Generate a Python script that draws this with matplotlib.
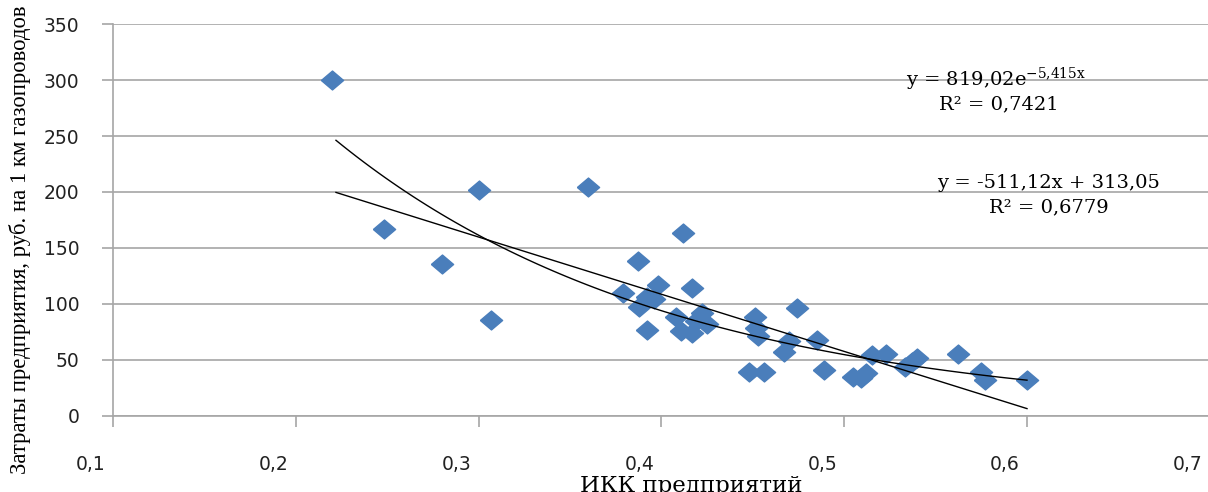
import numpy as np
import matplotlib
matplotlib.use('Agg')
import matplotlib.pyplot as plt
from matplotlib.ticker import FuncFormatter
from matplotlib.transforms import ScaledTranslation

# points
ikk = [0.220, 0.248, 0.280, 0.300, 0.307, 0.360, 0.379, 0.387, 0.388, 0.392,
       0.392, 0.396, 0.398, 0.408, 0.411, 0.412, 0.417, 0.417, 0.419, 0.422,
       0.425, 0.448, 0.451, 0.452, 0.453, 0.456, 0.467, 0.470, 0.474, 0.485,
       0.489, 0.505, 0.509, 0.512, 0.515, 0.523, 0.533, 0.537, 0.540, 0.562,
       0.575, 0.577, 0.600]
cost = [300, 167, 136, 202, 86, 204, 110, 138, 97, 77,
        106, 104, 117, 88, 76, 163, 114, 74, 85, 92,
        82, 39, 88, 78, 71, 39, 57, 67, 96, 68,
        41, 35, 34, 38, 54, 55, 44, 48, 52, 55,
        39, 32, 32]

# trendline coefficients as printed on the chart
lin_a, lin_b = -511.12, 313.05
exp_a, exp_b = 819.02, -5.415

y_ticks = [0, 50, 100, 150, 200, 250, 300, 350]
x_ticks = [0.1, 0.2, 0.3, 0.4, 0.5, 0.6, 0.7]

SERIF = ['Liberation Serif', 'DejaVu Serif']
WIDE = ['DejaVu Serif']
GRID = '#a6a6a6'

plt.rcParams['mathtext.fontset'] = 'dejavuserif'


def comma(v, pos):
	return ('%.1f' % v).replace('.', ',')


def main():
	fig = plt.figure(figsize=(12.08, 4.92), dpi=100)
	ax = fig.add_axes([0.0935, 0.155, 0.908, 0.796])

	ax.set_xlim(0.1, 0.7)
	ax.set_ylim(0, 350)
	ax.set_xticks(x_ticks)
	ax.set_yticks(y_ticks)
	ax.xaxis.set_major_formatter(FuncFormatter(comma))

	ax.grid(axis='y', color=GRID, lw=1.2, zorder=0)
	ax.set_axisbelow(True)
	for side in ['top', 'right']:
		ax.spines[side].set_visible(False)
	for side in ['left', 'bottom']:
		ax.spines[side].set_color(GRID)
		ax.spines[side].set_linewidth(1.2)
	ax.tick_params(axis='both', colors=GRID, length=8, width=1.2,
		labelcolor='#222222', labelsize=13.5)
	ax.tick_params(axis='x', pad=20)
	ax.tick_params(axis='y', pad=16)

	# x labels sit a bit left of their ticks in the original
	shift = ScaledTranslation(-22 / 100.0, 0, fig.dpi_scale_trans)
	for lab in ax.get_xticklabels():
		lab.set_transform(lab.get_transform() + shift)

	diamond = [(-1, 0), (0, 0.85), (1, 0), (0, -0.85), (-1, 0)]
	ax.plot(ikk, cost, ls='none', marker=diamond, ms=16, color='#4a7ebb',
		mec='#4a7ebb', zorder=3)

	xs = np.linspace(0.222, max(ikk), 100)
	ax.plot(xs, lin_a * xs + lin_b, color='black', lw=1, zorder=4)
	ax.plot(xs, exp_a * np.exp(exp_b * xs), color='black', lw=1, zorder=4)

	ax.text(0.583, 301, r'y = 819,02e$^{\mathrm{-5{,}415x}}$', family=WIDE,
		fontsize=14, ha='center', va='center')
	ax.text(0.5847, 278, 'R² = 0,7421', family=WIDE, fontsize=14,
		ha='center', va='center')
	ax.text(0.612, 208, 'y = -511,12x + 313,05', family=WIDE, fontsize=14,
		ha='center', va='center')
	ax.text(0.612, 186.5, 'R² = 0,6779', family=WIDE, fontsize=14,
		ha='center', va='center')

	ax.set_xlabel('ИКК предприятий', family=WIDE, fontsize=16.5)
	ax.set_ylabel('Затраты предприятия, руб. на 1 км газопроводов',
		family=SERIF, fontsize=16.4)
	ax.yaxis.set_label_coords(-0.075, 0.45)
	ax.xaxis.set_label_coords(0.527, -0.152)

	fig.savefig('out.png', dpi=100)


if __name__ == '__main__':
	main()
